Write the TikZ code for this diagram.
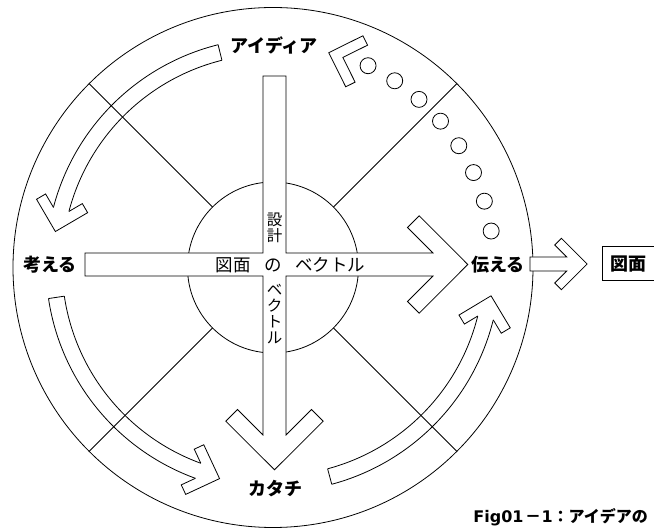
\documentclass[tikz,border=0pt]{standalone}
\usepackage{fontspec}
\newfontfamily\jp{Noto Sans CJK JP}
\newfontfamily\latinfont{DejaVu Sans}
\begin{document}
\begin{tikzpicture}[x=1pt,y=1pt,line width=0.8pt,
  lbl/.style={font=\jp\bfseries\fontsize{18}{18}\selectfont, inner sep=0pt},
  txt/.style={font=\jp\fontsize{17.5}{17.5}\selectfont, inner sep=0pt},
  vtxt/.style={font=\jp\fontsize{15.5}{16}\selectfont, inner sep=0pt, align=center},
  outl/.style={draw=black, line join=miter}]
\fill[white] (0,0) rectangle (654,530);
\useasboundingbox (0,0) rectangle (654,530);
% circles and diagonals
\coordinate (C) at (273,262.5);
\draw (C) circle (260);
\draw (C) circle (85.5);
\foreach \a in {45,135,225,315}{
  \draw ([shift={(\a:85.5)}]C) -- ([shift={(\a:260)}]C);
}
% curved arrows
\newcommand{\curvedarr}[2]{%
 \begin{scope}[shift={(273,265)}]
  \draw (#1:227) arc[start angle=#1, end angle=#2, radius=227];
  \draw (#1:211) arc[start angle=#1, end angle=#2, radius=211];
  \draw (#1:211) -- (#1:227);
  \begin{scope}[shift={(#2:219)}, rotate=#2+90]
    \draw[line join=miter] (0,-8) -- (-11,-19) -- (-3.58,-26.42) -- (22.85,0) -- (-3.58,26.42) -- (-11,19) -- (0,8);
  \end{scope}
 \end{scope}}
\curvedarr{104}{165.3}
\curvedarr{188.5}{250}
\curvedarr{285}{346}
% dotted arrow
\begin{scope}[shift={(273,265)}]
  \foreach \k in {0,...,7}{
    \pgfmathsetmacro{\ang}{64.5-7.95*\k}
    \draw (\ang:220.8) circle (8);
  }
  \begin{scope}[shift={(71.4:219)}, rotate=161.4]
    \draw[line join=miter] (0,0) -- (-19.5,19.5) -- (-12.08,26.92) -- (14.85,0) -- (-12.08,-26.92) -- (-19.5,-19.5) -- cycle;
  \end{scope}
\end{scope}
% central cross with arrows
\filldraw[fill=white, outl] (85,277) -- (263,277) -- (263,454) -- (286,454) -- (286,277) -- (433,277)
  -- (407.5,302.5) -- (419.2,314.2) -- (467.8,265.5) -- (419.2,216.8) -- (407.5,228.5) -- (433,254)
  -- (286,254) -- (286,95) -- (311.5,120.5) -- (323.2,108.8) -- (274.5,60.2) -- (225.8,108.8)
  -- (237.5,120.5) -- (263,95) -- (263,254) -- (85,254) -- cycle;
% small arrow to box
\filldraw[fill=white, outl] (530,273) -- (566.7,273) -- (554.7,285) -- (561.4,291.7) -- (587.1,266)
  -- (561.4,240.3) -- (554.7,247) -- (566.7,259) -- (530,259) -- cycle;
\draw (602,250) rectangle (657,283.3);
% labels
\node[lbl] (idea) at (274,485) {アイディア};
\node[lbl] (kangaeru) at (50,265) {考える};
\node[lbl] (tsutaeru) at (498,265) {伝える};
\node[lbl] (katachi) at (275.5,41.5) {カタチ};
\node[lbl] (zumen) at (628,265.7) {図面};
\node[txt] (zu) at (233,265) {図面};
\node[txt] (no) at (273,265) {の};
\node[txt] (vec) at (330,265) {ベクトル};
\node[vtxt] (sekkei) at (274.5,302) {設\\計};
\node[vtxt] (vvec) at (274.5,216) {ベ\\ク\\ト\\ル};
\node[font=\jp\bfseries\fontsize{16}{16}\selectfont, inner sep=0pt, anchor=base west] (cap) at (473,7)
  {{\latinfont\bfseries Fig01}\kern1.5pt －\kern0.5pt{\latinfont\bfseries 1}：アイデアの};
\end{tikzpicture}
\end{document}
